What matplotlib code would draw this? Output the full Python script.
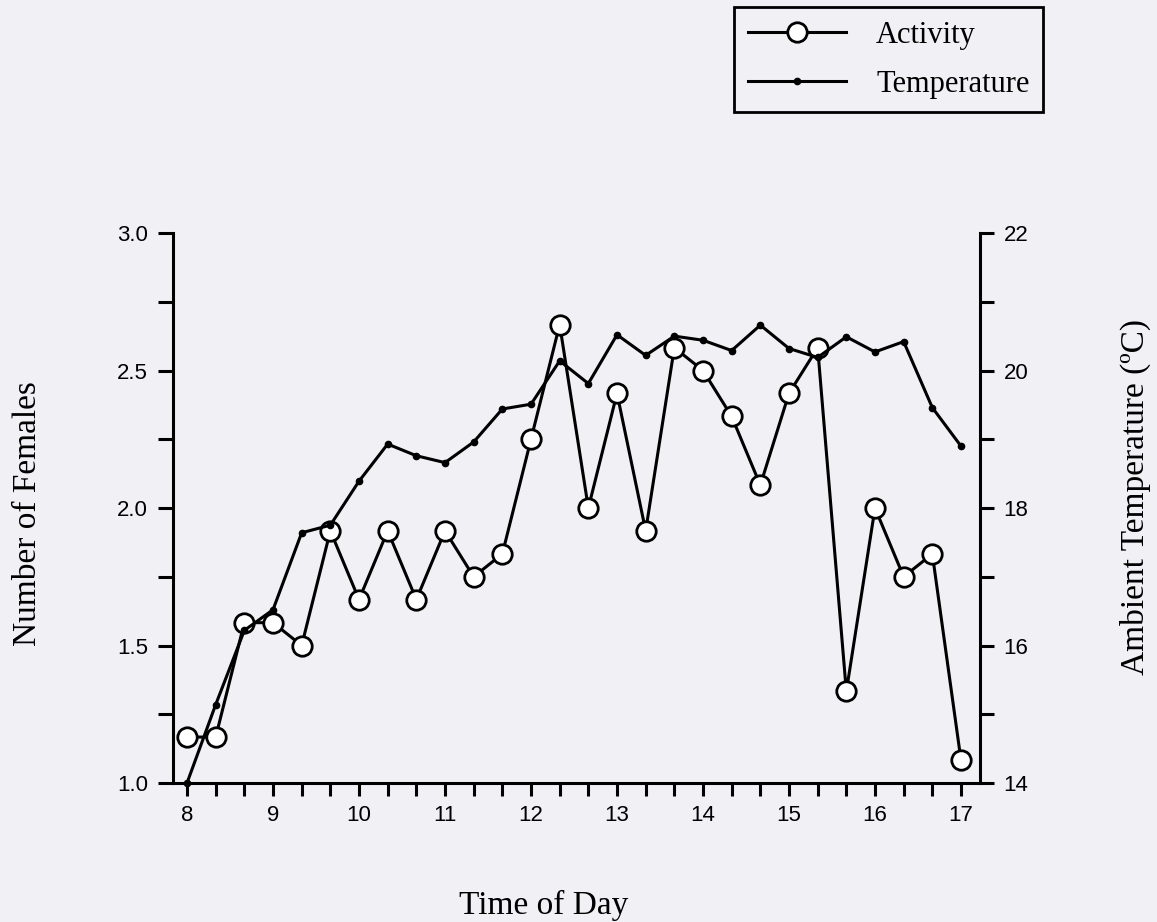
import numpy as np
import matplotlib
matplotlib.use("Agg")
import matplotlib.pyplot as plt
from matplotlib.ticker import MultipleLocator, FixedLocator, FormatStrFormatter
from matplotlib.lines import Line2D

# Observation times (hours, every 20 minutes from 08:00 to 17:00)
hours = [8 + i / 3 for i in range(28)]

# Mean number of active females per observation
activity = [1.167, 1.167, 1.583, 1.583, 1.500, 1.917, 1.667, 1.917, 1.667,
            1.917, 1.750, 1.833, 2.250, 2.667, 2.000, 2.417, 1.917, 2.583,
            2.500, 2.333, 2.083, 2.417, 2.583, 1.333, 2.000, 1.750, 1.833,
            1.083]

# Ambient temperature (deg C) at the same times
temperature = [14.00, 15.14, 16.22, 16.52, 17.64, 17.75, 18.39, 18.93, 18.76,
               18.66, 18.96, 19.44, 19.51, 20.14, 19.81, 20.52, 20.22, 20.50,
               20.44, 20.29, 20.66, 20.32, 20.19, 20.49, 20.27, 20.42, 19.46,
               18.90]

hour_labels = ["8", "9", "10", "11", "12", "13", "14", "15", "16", "17"]

BG = "#f1f0f5"
SERIF = ["Liberation Serif", "DejaVu Serif"]
SANS = ["Liberation Sans", "DejaVu Sans"]

fig = plt.figure(figsize=(11.57, 9.22), dpi=100, facecolor=BG)
ax = fig.add_axes([173 / 1157, 1 - 783 / 922, 807 / 1157, 550 / 922])
ax.set_facecolor(BG)
ax2 = ax.twinx()

lw = 2.2
ax.plot(hours, activity, color="black", lw=lw, marker="o", ms=14,
        mfc="white", mec="black", mew=2.0, zorder=3, clip_on=False)
ax2.plot(hours, temperature, color="black", lw=lw, marker="o", ms=4.5,
         mfc="black", mec="black", zorder=3, clip_on=False)

ax.set_xlim(7.837, 17.221)
ax.set_ylim(1.0, 3.0)
ax2.set_ylim(14, 22)

# Spines: left, bottom and right only
for a in (ax, ax2):
    a.spines["top"].set_visible(False)
    for s in ("left", "bottom", "right"):
        a.spines[s].set_linewidth(2.2)
ax2.spines["left"].set_visible(False)
ax2.spines["bottom"].set_visible(False)
ax.spines["right"].set_visible(False)

# x ticks: every 20 minutes, labels on the hour
ax.xaxis.set_major_locator(FixedLocator(list(range(8, 18))))
ax.set_xticklabels(hour_labels)
ax.xaxis.set_minor_locator(FixedLocator(
    [h for h in hours if abs(h - round(h)) > 1e-6]))
ax.tick_params(axis="x", which="both", direction="out", length=9, width=2.2,
               pad=7, labelsize=16)

ax.yaxis.set_major_locator(MultipleLocator(0.5))
ax.yaxis.set_minor_locator(MultipleLocator(0.25))
ax.yaxis.set_major_formatter(FormatStrFormatter("%.1f"))
ax.tick_params(axis="y", which="both", direction="out", length=11, width=2.2,
               pad=7, labelsize=16)

ax2.yaxis.set_major_locator(MultipleLocator(2))
ax2.yaxis.set_minor_locator(MultipleLocator(1))
ax2.tick_params(axis="y", which="both", direction="out", length=10, width=2.2,
                pad=7, labelsize=16)

for lab in ax.get_xticklabels() + ax.get_yticklabels() + ax2.get_yticklabels():
    lab.set_family(SANS)

ax.set_xlabel("Time of Day", family=SERIF, fontsize=24, va="center")
ax.xaxis.set_label_coords((544 - 173) / 807, (783 - 905) / 550)
ax.set_ylabel("Number of Females", family=SERIF, fontsize=24, va="center")
ax.yaxis.set_label_coords((28 - 173) / 807, (783 - 514) / 550)
ax2.set_ylabel("Ambient Temperature (\u00baC)", family=SERIF, fontsize=24,
               va="center", rotation=90)
ax2.yaxis.set_label_coords((1135 - 173) / 807, (783 - 497) / 550)

handles = [
    Line2D([], [], color="black", lw=lw, marker="o", ms=14, mfc="white",
           mec="black", mew=2.0),
    Line2D([], [], color="black", lw=lw, marker="o", ms=4.5, mfc="black",
           mec="black"),
]
leg = fig.legend(handles, ["Activity", "Temperature"], loc="upper left",
                 bbox_to_anchor=(734 / 1157, 1 - 7 / 922),
                 prop={"family": SERIF, "size": 22}, frameon=True,
                 fancybox=False, edgecolor="black", facecolor=BG,
                 framealpha=1, handlelength=3.2, handletextpad=1.0,
                 borderpad=0.45, labelspacing=0.65, borderaxespad=0)
leg.get_frame().set_linewidth(2.0)

fig.savefig("out.png", dpi=100, facecolor=BG)
